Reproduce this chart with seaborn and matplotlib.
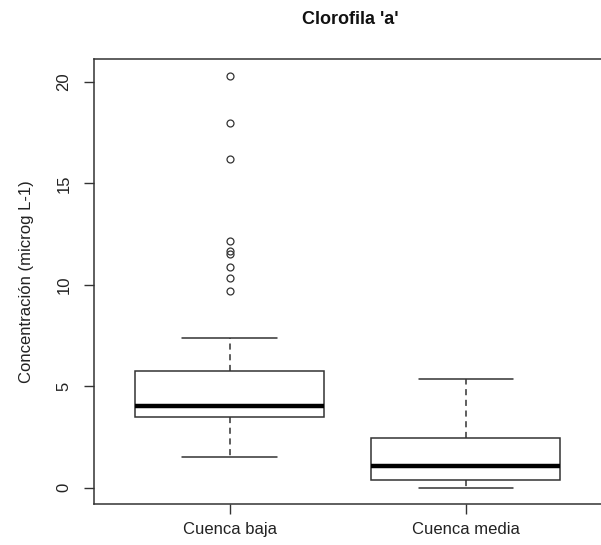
import numpy as np
import pandas as pd
import matplotlib
matplotlib.use("Agg")
import matplotlib.pyplot as plt
import seaborn as sns

categories = ["Cuenca baja", "Cuenca media"]

baja = [1.54, 2.10, 2.50, 2.80, 3.00, 3.10, 3.20, 3.30, 3.35, 3.42,
        3.48, 3.55, 3.60, 3.68, 3.75, 3.80, 3.86, 3.92, 3.97, 4.00,
        4.04, 4.15, 4.30, 4.50, 4.70, 4.90, 5.10, 5.30, 5.50, 5.65,
        5.76, 7.36, 9.70, 10.33, 10.90, 11.53, 11.69, 12.18, 16.19, 17.97, 20.30]

media = [0.00, 0.08, 0.15, 0.24, 0.32, 0.39, 0.50, 0.65, 0.80, 0.95,
         1.08, 1.30, 1.60, 1.90, 2.20, 2.48, 2.90, 3.40, 4.00, 4.70, 5.38]

yticks = [0, 5, 10, 15, 20]

df = pd.DataFrame({
    "cuenca": [categories[0]] * len(baja) + [categories[1]] * len(media),
    "valor": baja + media,
})

sns.set_style("white")
plt.rcParams["font.family"] = ["Liberation Sans", "DejaVu Sans"]

fig = plt.figure(figsize=(6.01, 5.45), dpi=100)
ax = fig.add_axes([93.5 / 601, (545 - 504.3) / 545, (602 - 93.5) / 601, (504.3 - 59.3) / 545])

line_col = "#333333"
sns.boxplot(
    data=df, x="cuenca", y="valor", order=categories, ax=ax,
    color="white", linecolor=line_col, linewidth=1.1, width=0.8, whis=1.5,
    flierprops=dict(marker="o", markersize=5, markerfacecolor="none",
                    markeredgecolor=line_col, markeredgewidth=0.9),
    medianprops=dict(linewidth=3.2, color="black"),
    whiskerprops=dict(linestyle=(0, (4, 3)), color=line_col),
    capprops=dict(linestyle="-", color=line_col),
    boxprops=dict(edgecolor=line_col, facecolor="white"),
)

ax.set_xlim(-0.576, 1.576)
ax.set_ylim(-0.81, 21.11)
ax.set_yticks(yticks)
ax.set_yticklabels([str(t) for t in yticks], rotation=90, va="center", fontsize=12, color="#222222")
ax.tick_params(axis="both", direction="out", length=7, width=1, color=line_col,
               left=True, bottom=True)
ax.tick_params(axis="y", pad=9)
ax.tick_params(axis="x", labelsize=12, labelcolor="#222222", pad=6)
for s in ax.spines.values():
    s.set_visible(True)
    s.set_color(line_col)
    s.set_linewidth(1.1)

ax.set_xlabel("")
ax.set_ylabel("Concentración (microg L-1)", fontsize=12, color="#222222", labelpad=16)
fig.text(350 / 601, 1 - 20 / 545, "Clorofila 'a'", ha="center", va="center",
         fontsize=13, fontweight="bold", color="#111111")

fig.savefig("out.png", dpi=100)
